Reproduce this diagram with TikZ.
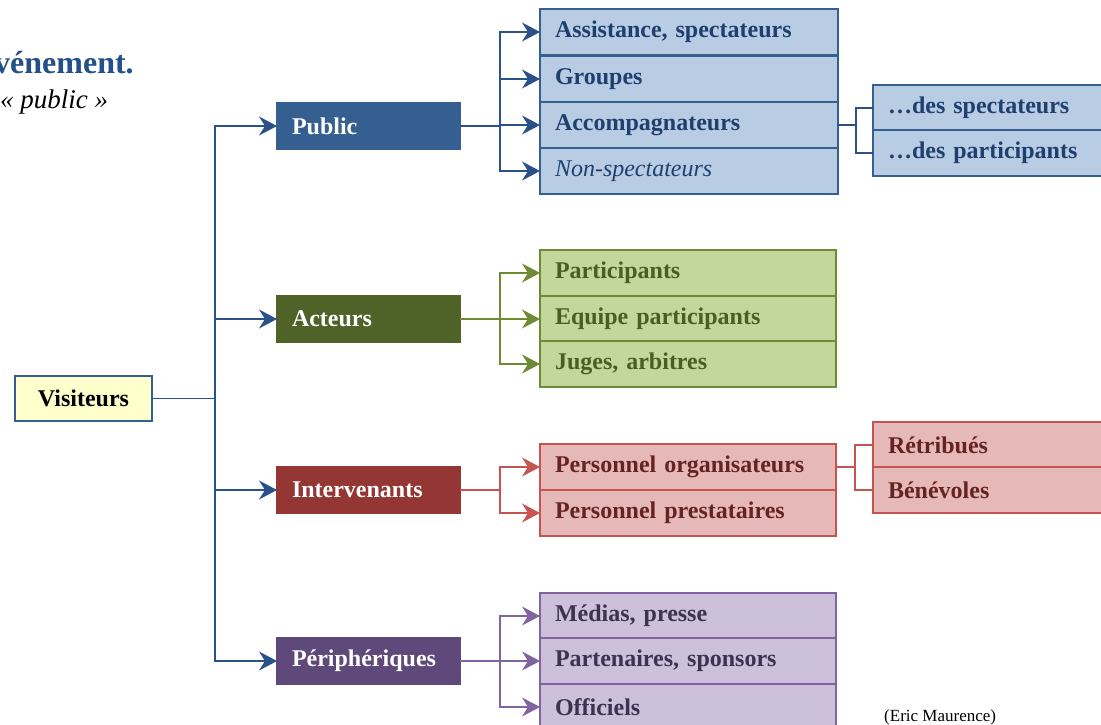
\documentclass[tikz,border=0pt]{standalone}
\usepackage{fontspec}
\setmainfont{Liberation Serif}
\usetikzlibrary{arrows.meta}
\definecolor{bDark}{HTML}{365F91}
\definecolor{bLine}{HTML}{2A5189}
\definecolor{bLight}{HTML}{B8CCE4}
\definecolor{bText}{HTML}{1F3F6E}
\definecolor{tBlue}{HTML}{24508A}
\definecolor{gDark}{HTML}{4F6228}
\definecolor{gLine}{HTML}{6E8A35}
\definecolor{gLight}{HTML}{C3D69B}
\definecolor{gText}{HTML}{4A5E24}
\definecolor{rDark}{HTML}{943634}
\definecolor{rLine}{HTML}{C65451}
\definecolor{rLight}{HTML}{E6B9B8}
\definecolor{rText}{HTML}{632423}
\definecolor{pDark}{HTML}{5F497A}
\definecolor{pLine}{HTML}{8064A2}
\definecolor{pLight}{HTML}{CCC0DA}
\definecolor{pText}{HTML}{3F3151}
\definecolor{yFill}{HTML}{FFFFCC}
\tikzset{
  box/.style={rectangle, draw, line width=1.3pt, anchor=north west, inner xsep=15pt, inner ysep=0pt,
    outer sep=0pt, align=left, font=\fontsize{24}{26}\selectfont\bfseries},
  lvone/.style={box, minimum height=46pt, text width=153pt},
  lvtwo/.style={box, minimum height=46pt, text width=268pt},
  lvthree/.style={box, minimum height=46pt, text width=200pt},
  conn/.style={line width=1.5pt},
  arr/.style={conn, -{Stealth[length=18pt,width=19pt,inset=6pt]}},
}
\begin{document}
\begin{tikzpicture}[x=1pt,y=-1pt]
\useasboundingbox (0,0) rectangle (1101,725);
\clip (0,0) rectangle (1101,725);
% title fragments
\node[anchor=base west, inner sep=0, text=tBlue, font=\fontsize{32}{34}\selectfont\bfseries] (ttl) at (-6,74) {vénement.};
\node[anchor=base west, inner sep=0, font=\fontsize{27}{30}\selectfont\itshape] (sub) at (0,109) {« public »};
% root
\node[box, draw=bDark, fill=yFill, anchor=north west, minimum width=137pt, minimum height=45pt, text width=107pt, align=center] (vis) at (15,376) {Visiteurs};
% level one
\node[lvone, draw=bDark, fill=bDark, text=white] (pub) at (277,103) {Public};
\node[lvone, draw=gDark, fill=gDark, text=white] (act) at (277,296) {Acteurs};
\node[lvone, draw=rDark, fill=rDark, text=white] (int) at (277,467) {Intervenants};
\node[lvone, draw=pDark, fill=pDark, text=white] (per) at (277,638) {Périphériques};
% public children
\tikzset{bl/.style={lvtwo, draw=bDark, fill=bLight, text=bText}}
\node[bl] (a1) at (540,9) {Assistance, spectateurs};
\node[bl] (a2) at (540,56) {Groupes};
\node[bl] (a3) at (540,102) {Accompagnateurs};
\node[bl, font=\fontsize{24}{26}\selectfont\itshape] (a4) at (540,148) {Non-spectateurs};
\node[lvthree, draw=bDark, fill=bLight, text=bText] (s1) at (873,85) {\dots des spectateurs};
\node[lvthree, draw=bDark, fill=bLight, text=bText] (s2) at (873,130) {\dots des participants};
% acteurs children
\tikzset{gl/.style={lvtwo, draw=gLine, fill=gLight, text=gText, text width=266pt}}
\node[gl] (g1) at (540,250) {Participants};
\node[gl] (g2) at (540,296) {Equipe participants};
\node[gl] (g3) at (540,341) {Juges, arbitres};
% intervenants children
\tikzset{rl/.style={lvtwo, draw=rLine, fill=rLight, text=rText, text width=266pt}}
\node[rl] (r1) at (540,444) {Personnel organisateurs};
\node[rl] (r2) at (540,490) {Personnel prestataires};
\node[lvthree, draw=rLine, fill=rLight, text=rText] (t1) at (873,422) {Rétribués};
\node[lvthree, draw=rLine, fill=rLight, text=rText] (t2) at (873,467) {Bénévoles};
% peripheriques children
\tikzset{pl/.style={lvtwo, draw=pLine, fill=pLight, text=pText, text width=266pt}}
\node[pl] (p1) at (540,593) {Médias, presse};
\node[pl] (p2) at (540,638) {Partenaires, sponsors};
\node[pl] (p3) at (540,684) {Officiels};
% credit
\node[anchor=base west, inner sep=0, font=\fontsize{17}{19}\selectfont] (cred) at (884,721) {(Eric Maurence)};
% trunk
\path (vis.east) ++(63,0) coordinate (tr);
\draw[conn, draw=bLine] (vis.east) -- (tr);
\foreach \n in {pub,act,int,per} \draw[arr, draw=bLine] (tr) |- (\n.west);
% public branch
\path (pub.east) ++(40,0) coordinate (bp);
\draw[conn, draw=bLine] (pub.east) -- (bp);
\foreach \n in {a1,a2,a3,a4} \draw[arr, draw=bLine] (bp) |- (\n.west);
\path (a3.east) ++(18,0) coordinate (bs);
\draw[conn, draw=bLine] (a3.east) -- (bs);
\foreach \n in {s1,s2} \draw[conn, draw=bLine] (bs) |- (\n.west);
% acteurs branch
\path (act.east) ++(40,0) coordinate (bg);
\draw[conn, draw=gLine] (act.east) -- (bg);
\foreach \n in {g1,g2,g3} \draw[arr, draw=gLine] (bg) |- (\n.west);
% intervenants branch
\path (int.east) ++(40,0) coordinate (br);
\draw[conn, draw=rLine] (int.east) -- (br);
\foreach \n in {r1,r2} \draw[arr, draw=rLine] (br) |- (\n.west);
\path (r1.east) ++(19,0) coordinate (brs);
\draw[conn, draw=rLine] (r1.east) -- (brs);
\foreach \n in {t1,t2} \draw[conn, draw=rLine] (brs) |- (\n.west);
% peripheriques branch
\path (per.east) ++(40,0) coordinate (bq);
\draw[conn, draw=pLine] (per.east) -- (bq);
\foreach \n in {p1,p2,p3} \draw[arr, draw=pLine] (bq) |- (\n.west);
\end{tikzpicture}
\end{document}
